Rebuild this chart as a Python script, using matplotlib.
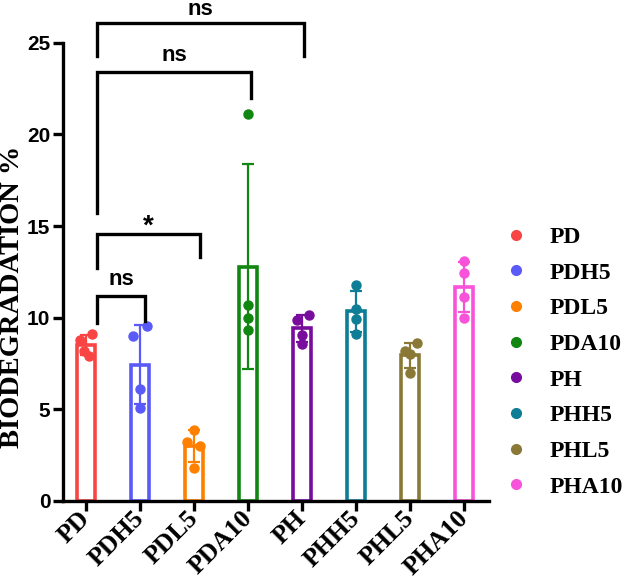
import matplotlib
matplotlib.use("Agg")
import matplotlib.pyplot as plt
import numpy as np
from matplotlib.lines import Line2D

# ---- data ----
categories = ["PD", "PDH5", "PDL5", "PDA10", "PH", "PHH5", "PHL5", "PHA10"]
pd_vals = [9.1, 8.8, 8.2, 7.9]
pdh5_vals = [9.55, 9.0, 6.1, 5.1]
pdl5_vals = [3.9, 3.2, 3.0, 1.8]
pda10_vals = [21.1, 10.7, 10.0, 9.35]
ph_vals = [10.15, 9.9, 9.05, 8.55]
phh5_vals = [11.8, 10.5, 9.95, 9.1]
phl5_vals = [8.6, 8.2, 8.0, 7.0]
pha10_vals = [13.1, 12.45, 11.15, 10.0]
values = [pd_vals, pdh5_vals, pdl5_vals, pda10_vals, ph_vals, phh5_vals, phl5_vals, pha10_vals]
colors = ["#F94444", "#5A5AF8", "#FF8000", "#118711", "#780C9C", "#0E7D96", "#8A7936", "#F952DA"]

# significance comparisons (vs PD)
comp_targets = ["PDH5", "PDL5", "PDA10", "PH"]
comp_labels = ["ns", "*", "ns", "ns"]
comp_tops = [11.2, 14.55, 23.4, 26.05]
comp_left_ends = [9.7, 12.7, 15.7, 24.3]
comp_right_ends = [9.8, 13.3, 22.0, 24.3]

# jitter offsets (layout only)
jitter = [[0.1, -0.11, -0.05, 0.05],
          [0.12, -0.13, 0, 0],
          [0, -0.13, 0.11, 0],
          [0, 0, 0, 0],
          [0.12, -0.1, 0, 0],
          [0, 0, 0, 0],
          [0.12, -0.1, 0, 0],
          [0, 0, 0, 0]]

fig = plt.figure(figsize=(6.28, 5.79), dpi=100)
ax = fig.add_axes([63/628, 1-501/579, (489-63)/628, (501-42.7)/579])

x = np.arange(len(categories))
means = [np.mean(v) for v in values]
sds = [np.std(v, ddof=1) for v in values]

for i in range(len(categories)):
    ax.bar(x[i], means[i], width=0.34, facecolor="white", edgecolor=colors[i],
           linewidth=2.6, zorder=2)
    ax.errorbar(x[i], means[i], yerr=sds[i], color=colors[i], capsize=4,
                capthick=1.6, elinewidth=1.6, zorder=3, fmt="none")
    ax.plot(x[i] + np.array(jitter[i]), values[i], "o", color=colors[i],
            markersize=6.5, zorder=4, clip_on=False)

ax.set_xlim(-0.43, 7.46)
ax.set_ylim(0, 25)
ax.set_yticks([0, 5, 10, 15, 20, 25])
for s in ["top", "right"]:
    ax.spines[s].set_visible(False)
for s in ["left", "bottom"]:
    ax.spines[s].set_linewidth(2.4)
    ax.spines[s].set_zorder(5)
ax.tick_params(axis="both", length=7, width=2.4, direction="out")
ax.tick_params(axis="y", pad=2)
ax.set_yticklabels([str(t) for t in [0, 5, 10, 15, 20, 25]],
                   fontfamily="Liberation Sans", fontweight="heavy", fontsize=15)
ax.set_xticks(x)
ax.set_xticklabels(categories, rotation=45, ha="right", va="center",
                   rotation_mode="anchor", fontfamily="Liberation Serif",
                   fontweight="bold", fontsize=18.5)
ax.tick_params(axis="x", pad=3)

fig.text(13/628, 1-296.5/579, "BIODEGRADATION %", rotation=90, ha="center",
         va="center", fontfamily="Liberation Serif", fontweight="bold", fontsize=20.5)

# brackets
for tgt, lab, top, le, re_, ro in zip(comp_targets, comp_labels, comp_tops,
                                      comp_left_ends, comp_right_ends,
                                      [0.09, 0.11, 0.05, 0.04]):
    j = categories.index(tgt)
    xl = 0 + 0.2
    xr = j + ro
    ax.plot([xl, xl, xr, xr], [le, top, top, re_], color="black", lw=2.4,
            clip_on=False, solid_joinstyle="miter", zorder=6)
    if lab == "*":
        ax.text((xl + xr) / 2, top + 0.05, lab, ha="center", va="baseline",
                fontsize=20, fontweight="bold", fontfamily="Liberation Sans")
    else:
        off = 0.45 if top > 25 else 0.6
        ax.text((xl + xr) / 2, top + off, lab, ha="center", va="baseline",
                fontsize=16, fontweight="bold", fontfamily="Liberation Sans")

handles = [Line2D([], [], marker="o", linestyle="none", color=c, markersize=7)
           for c in colors]
leg = ax.legend(handles, categories, loc="upper left", bbox_to_anchor=(1.02, 0.62),
                frameon=False, handlelength=0.8, handletextpad=1.0,
                labelspacing=0.6, borderaxespad=0,
                prop={"family": "Liberation Serif", "weight": "bold", "size": 17})

fig.savefig("out.png", dpi=100)
